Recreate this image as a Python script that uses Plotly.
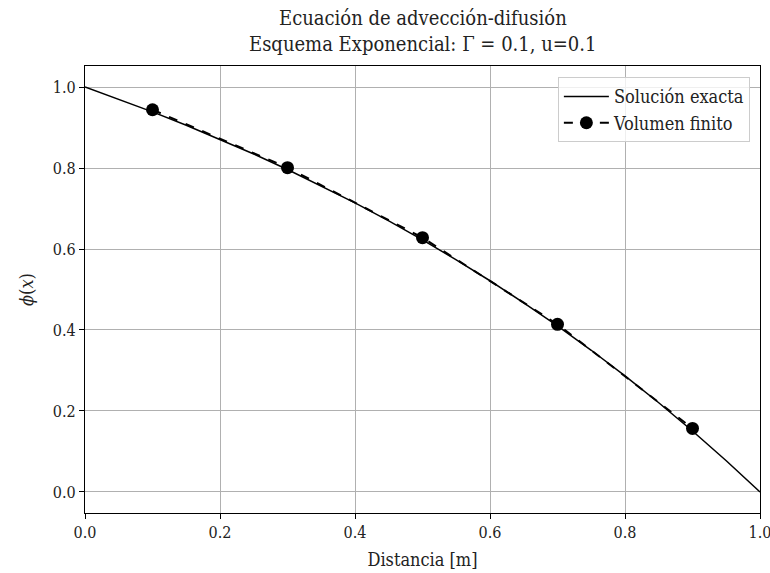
import plotly.graph_objects as go

# Exact solution samples
x_exact = [0.0, 0.05, 0.1, 0.15, 0.2, 0.25, 0.3, 0.35, 0.4, 0.45, 0.5,
           0.55, 0.6, 0.65, 0.7, 0.75, 0.8, 0.85, 0.9, 0.95, 1.0]
phi_exact = [1.0, 0.9702, 0.9388, 0.9058, 0.8712, 0.8347, 0.7964, 0.7561,
             0.7138, 0.6693, 0.6225, 0.5733, 0.5216, 0.4672, 0.4100, 0.3499,
             0.2868, 0.2204, 0.1505, 0.0772, 0.0]

# Finite volume nodes
x_fv = [0.1, 0.3, 0.5, 0.7, 0.9]
phi_fv = [0.944, 0.801, 0.628, 0.414, 0.157]

x_ticks = [0.0, 0.2, 0.4, 0.6, 0.8, 1.0]
y_ticks = [0.0, 0.2, 0.4, 0.6, 0.8, 1.0]

title_lines = ["Ecuación de advección-difusión",
               "Esquema Exponencial: Γ = 0.1, u=0.1"]

FONT = "DejaVu Serif Condensed, Liberation Serif, serif"
TXT = "#222"

fig = go.Figure()
fig.add_trace(go.Scatter(x=x_exact, y=phi_exact, mode="lines",
                         name="Solución exacta",
                         line=dict(color="black", width=1.5)))
fig.add_trace(go.Scatter(x=x_fv, y=phi_fv, mode="lines+markers",
                         name="Volumen finito",
                         line=dict(color="black", width=2, dash="dash"),
                         marker=dict(color="black", size=13)))

axis_common = dict(showline=True, linecolor="black", linewidth=1.2, mirror=True,
                   ticks="outside", ticklen=5, tickcolor="black",
                   showgrid=True, gridcolor="#b0b0b0", gridwidth=1,
                   zeroline=False, tickfont=dict(size=16, color=TXT),
                   tickformat=".1f", ticklabeloverflow="allow", automargin=False)

fig.update_xaxes(range=[0, 1], tickvals=x_ticks,
                 title=dict(text="Distancia [m]", font=dict(size=18, color=TXT), standoff=12),
                 **axis_common)
fig.update_yaxes(range=[-0.052, 1.052], tickvals=y_ticks,
                 title=dict(text="<i>ϕ</i>(<i>x</i>)", font=dict(size=18, color=TXT), standoff=14),
                 **axis_common)

fig.add_annotation(text=title_lines[0], xref="paper", yref="paper",
                   x=0.5, y=1, yshift=48, xanchor="center", yanchor="middle",
                   showarrow=False, font=dict(size=20, color=TXT))
fig.add_annotation(text=title_lines[1], xref="paper", yref="paper",
                   x=0.5, y=1, yshift=22, xanchor="center", yanchor="middle",
                   showarrow=False, font=dict(size=20, color=TXT))

fig.update_layout(
    width=770, height=573,
    margin=dict(l=85, r=10, t=66, b=60, autoexpand=False),
    paper_bgcolor="white", plot_bgcolor="white",
    font=dict(family=FONT, size=16, color=TXT),
    legend=dict(x=0.985, y=0.975, xanchor="right", yanchor="top",
                bgcolor="rgba(255,255,255,0.8)", bordercolor="#cccccc", borderwidth=1,
                itemwidth=45, font=dict(size=18, color=TXT)),
    showlegend=True,
)

fig.write_html("out.html")
